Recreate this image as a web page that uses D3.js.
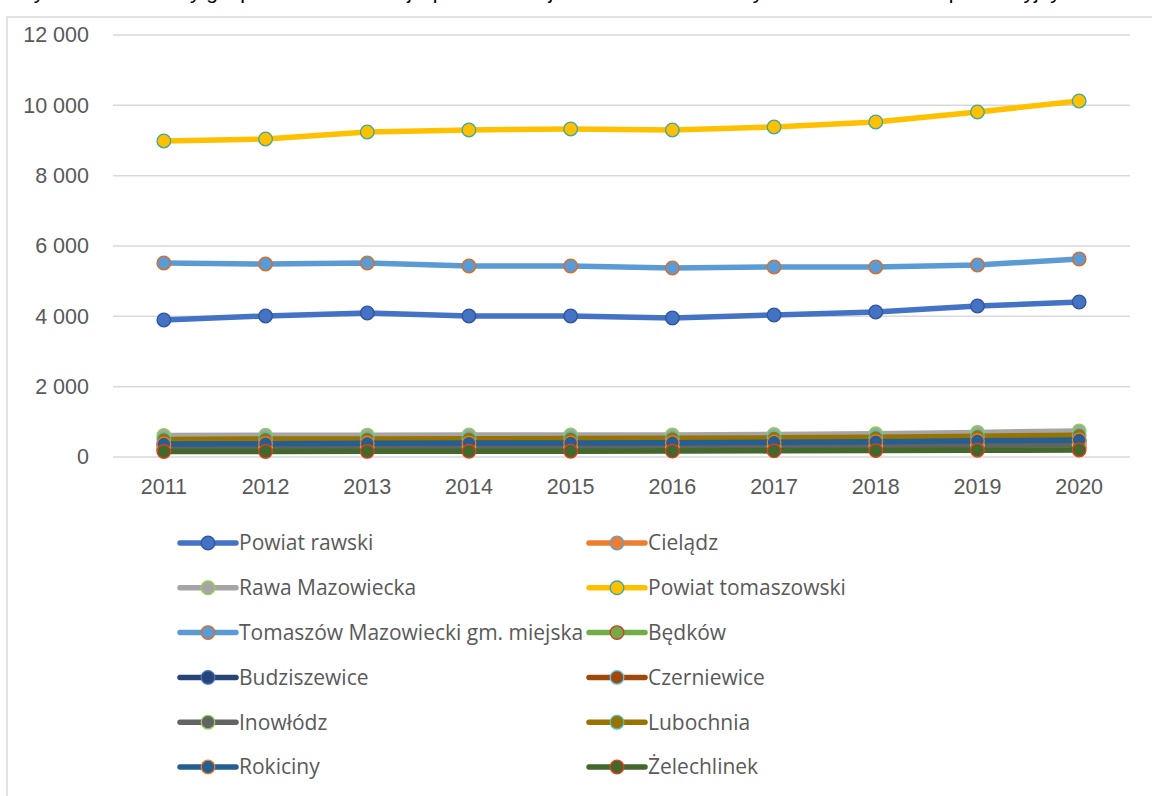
<!DOCTYPE html>
<html>
<head>
<meta charset="utf-8">
<script src="https://cdn.jsdelivr.net/npm/d3@7"></script>
<style>
  body { margin: 0; background: #fff; }
  svg { display: block; font-family: "Open Sans", "Noto Sans", sans-serif; }
</style>
</head>
<body>
<svg id="chart"></svg>
<script>
let width = 1152;
let height = 796;

let years = ["2011", "2012", "2013", "2014", "2015", "2016", "2017", "2018", "2019", "2020"];
let yTicks = [0, 2000, 4000, 6000, 8000, 10000, 12000];

let names = ["Powiat rawski", "Cielądz", "Rawa Mazowiecka", "Powiat tomaszowski",
    "Tomaszów Mazowiecki gm. miejska", "Będków", "Budziszewice", "Czerniewice",
    "Inowłódz", "Lubochnia", "Rokiciny", "Żelechlinek"];

let powiatRawski = [3896, 4010, 4095, 4010, 4010, 3953, 4038, 4123, 4294, 4408];
let cieladz = [390, 395, 400, 405, 405, 410, 420, 430, 450, 470];
let rawaMazowiecka = [611, 620, 622, 625, 625, 625, 640, 660, 700, 739];
let powiatTomaszowski = [8986, 9043, 9242, 9299, 9327, 9299, 9384, 9526, 9810, 10123];
let tomaszowMiasto = [5517, 5488, 5517, 5431, 5431, 5374, 5403, 5403, 5460, 5630];
let bedkow = [220, 222, 225, 228, 230, 232, 240, 248, 262, 275];
let budziszewice = [330, 335, 340, 342, 345, 348, 360, 372, 392, 410];
let czerniewice = [300, 302, 305, 308, 310, 312, 322, 332, 350, 365];
let inowlodz = [256, 260, 265, 270, 275, 280, 295, 310, 340, 365];
let lubochnia = [500, 510, 515, 520, 525, 530, 545, 560, 590, 620];
let rokiciny = [370, 380, 390, 395, 400, 405, 420, 435, 460, 483];
let zelechlinek = [156, 158, 160, 162, 165, 168, 175, 182, 192, 200];

let seriesValues = [powiatRawski, cieladz, rawaMazowiecka, powiatTomaszowski, tomaszowMiasto,
    bedkow, budziszewice, czerniewice, inowlodz, lubochnia, rokiciny, zelechlinek];

let lineColors = ["#4472C4", "#ED7D31", "#A5A5A5", "#FFC000", "#5B9BD5", "#70AD47",
    "#264478", "#9E480E", "#636363", "#997300", "#255E91", "#43682B"];
let markerStrokes = ["#2F5597", "#5BA3D0", "#92D050", "#3FA89A", "#E06A1E", "#E0302A",
    "#4472C4", "#5BC8EE", "#92D050", "#4BBFC0", "#F07A25", "#F03A1E"];

let margin = { left: 113, right: 22, top: 35, bottom: 339 };

let svg = d3.select("#chart")
    .attr("width", width)
    .attr("height", height);

// caption above the frame, cut off by the page top in the source
svg.append("text")
    .attr("x", 14)
    .attr("y", -1)
    .attr("font-family", "Liberation Sans, Arial, sans-serif")
    .attr("font-size", 21)
    .attr("fill", "#000")
    .text("Wykres 1. Podmioty gospodarki narodowej wpisane do rejestru REGON na 10 tys. ludności w wieku produkcyjnym");

// chart frame
svg.append("rect")
    .attr("x", 7)
    .attr("y", 17)
    .attr("width", 1160)
    .attr("height", 800)
    .attr("fill", "none")
    .attr("stroke", "#d9d9d9")
    .attr("stroke-width", 1.5);

let x = d3.scaleBand()
    .domain(years)
    .range([margin.left, width - margin.right]);

let y = d3.scaleLinear()
    .domain([0, 12000])
    .range([height - margin.bottom, margin.top]);

let fmt = v => d3.format(",")(v).replace(/,/g, " ");

// gridlines
svg.append("g")
    .selectAll("line")
    .data(yTicks)
    .enter().append("line")
    .attr("x1", margin.left)
    .attr("x2", width - margin.right)
    .attr("y1", d => y(d))
    .attr("y2", d => y(d))
    .attr("stroke", "#d9d9d9")
    .attr("stroke-width", 1.5);

// y labels
let yAxis = svg.append("g")
    .attr("transform", "translate(" + (margin.left - 24) + ",0)")
    .call(d3.axisLeft(y).tickValues(yTicks).tickFormat(fmt).tickSize(0).tickPadding(0));
yAxis.select(".domain").remove();
yAxis.selectAll("text")
    .attr("font-size", 21.5)
    .attr("fill", "#595959");

// x labels
let xAxis = svg.append("g")
    .attr("transform", "translate(0," + (height - margin.bottom) + ")")
    .call(d3.axisBottom(x).tickSize(0).tickPadding(22));
xAxis.select(".domain").remove();
xAxis.selectAll("text")
    .attr("font-size", 21.5)
    .attr("fill", "#595959");

let line = d3.line()
    .x((d, i) => x(years[i]) + x.bandwidth() / 2)
    .y(d => y(d));

let seriesG = svg.append("g")
    .selectAll("g")
    .data(seriesValues)
    .enter().append("g");

seriesG.append("path")
    .attr("d", d => line(d))
    .attr("fill", "none")
    .attr("stroke", (d, i) => lineColors[i])
    .attr("stroke-width", 5.5)
    .attr("stroke-linejoin", "round");

seriesG.each(function (vals, si) {
    d3.select(this).selectAll("circle")
        .data(vals)
        .enter().append("circle")
        .attr("cx", (d, i) => x(years[i]) + x.bandwidth() / 2)
        .attr("cy", d => y(d))
        .attr("r", 6.8)
        .attr("fill", lineColors[si])
        .attr("stroke", markerStrokes[si])
        .attr("stroke-width", 1.3);
});

// legend
let legend = svg.append("g")
    .selectAll("g")
    .data(names)
    .enter().append("g")
    .attr("transform", (d, i) => "translate(" + (i % 2 === 0 ? 180 : 589) + "," + (543 + Math.floor(i / 2) * 44.8) + ")");

legend.append("line")
    .attr("x1", 0)
    .attr("x2", 56)
    .attr("stroke", (d, i) => lineColors[i])
    .attr("stroke-width", 5.5)
    .attr("stroke-linecap", "round");

legend.append("circle")
    .attr("cx", 28)
    .attr("r", 6.8)
    .attr("fill", (d, i) => lineColors[i])
    .attr("stroke", (d, i) => markerStrokes[i])
    .attr("stroke-width", 1.3);

legend.append("text")
    .attr("x", 59)
    .attr("dy", "0.35em")
    .attr("font-size", 21)
    .attr("fill", "#595959")
    .text(d => d);
</script>
</body>
</html>
